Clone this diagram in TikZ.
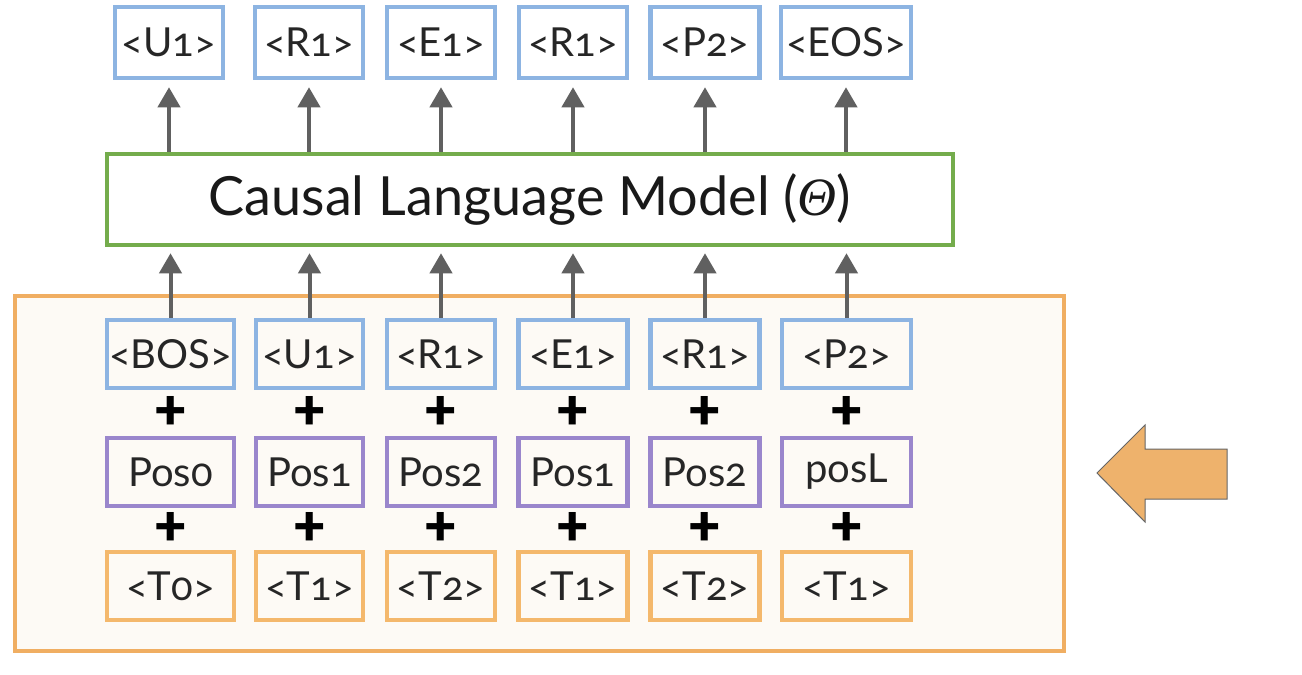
\documentclass[tikz,border=0pt]{standalone}
\usepackage{fontspec}
\setmainfont{Lato}[Numbers=OldStyle]
\newfontfamily\thetafont{Liberation Serif}
\newfontfamily\plusfont{Lato Black}
\usetikzlibrary{arrows.meta,calc}
\definecolor{tokblue}{HTML}{8DB4E2}
\definecolor{posviolet}{HTML}{9A86CC}
\definecolor{typeorange}{HTML}{F4B86C}
\definecolor{frameorange}{HTML}{F0AE62}
\definecolor{framefill}{HTML}{FDFAF5}
\definecolor{modelgreen}{HTML}{74AC4C}
\definecolor{flowgray}{HTML}{606060}
\definecolor{arrowfill}{HTML}{EEB26C}
\begin{document}
\begin{tikzpicture}[x=1pt,y=-1pt,
  boxbase/.style={line width=4.5pt, inner sep=0pt, text=black!85,
    font=\fontsize{40}{44}\selectfont},
  tokbox/.style={boxbase, draw=tokblue, minimum height=68pt},
  outbox/.style={boxbase, draw=tokblue, minimum height=71pt},
  posbox/.style={boxbase, draw=posviolet, minimum height=68pt},
  typebox/.style={boxbase, draw=typeorange, minimum height=68pt},
  modelbox/.style={line width=4.5pt, draw=modelgreen, inner sep=0pt,
    minimum width=846pt, minimum height=91pt, text=black!90,
    font=\fontsize{54}{58}\selectfont},
  flow/.style={draw=flowgray, line width=4pt,
    -{Triangle[width=22pt,length=20pt]}},
  plussign/.style={font=\plusfont\fontsize{56}{58}\selectfont, inner sep=0pt},
  frame/.style={draw=frameorange, fill=framefill, line width=4pt},
  bigarrow/.style={fill=arrowfill, draw=black!60, line width=1pt}
]
\useasboundingbox (0,0) rectangle (1302,675);
\fill[white] (0,0) rectangle (1302,675);

% outer frame
\draw[frame] (15,296) rectangle (1064,651);

% model
\node[modelbox] (m) at (530,199.5) {Causal Language Model ({\thetafont\itshape Θ})};

% output tokens
\node[outbox, minimum width=108pt] (o1) at (169,42.5) {<U1>};
\node[outbox, minimum width=108pt] (o2) at (309,42.5) {<R1>};
\node[outbox, minimum width=108pt] (o3) at (441,42.5) {<E1>};
\node[outbox, minimum width=108pt] (o4) at (573,42.5) {<R1>};
\node[outbox, minimum width=109pt] (o5) at (705,42.5) {<P2>};
\node[outbox, minimum width=130pt] (o6) at (846,42.5) {<EOS>};

% input tokens
\node[tokbox, minimum width=127pt] (b1) at (170.5,354) {<BOS>};
\node[tokbox, minimum width=107pt] (b2) at (309.5,354) {<U1>};
\node[tokbox, minimum width=108pt] (b3) at (441,354) {<R1>};
\node[tokbox, minimum width=109pt] (b4) at (573,354) {<E1>};
\node[tokbox, minimum width=109pt] (b5) at (705,354) {<R1>};
\node[tokbox, minimum width=129pt] (b6) at (846.5,354) {<P2>};

% positions
\node[posbox, minimum width=127pt] (p1) at (170.5,472) {Pos0};
\node[posbox, minimum width=107pt] (p2) at (309.5,472) {Pos1};
\node[posbox, minimum width=108pt] (p3) at (441,472) {Pos2};
\node[posbox, minimum width=109pt] (p4) at (573,472) {Pos1};
\node[posbox, minimum width=109pt] (p5) at (705,472) {Pos2};
\node[posbox, minimum width=129pt] (p6) at (846.5,472) {posL};

% types
\node[typebox, minimum width=127pt] (t1) at (170.5,586) {<T0>};
\node[typebox, minimum width=107pt] (t2) at (309.5,586) {<T1>};
\node[typebox, minimum width=108pt] (t3) at (441,586) {<T2>};
\node[typebox, minimum width=109pt] (t4) at (573,586) {<T1>};
\node[typebox, minimum width=109pt] (t5) at (705,586) {<T2>};
\node[typebox, minimum width=129pt] (t6) at (846.5,586) {<T1>};

% plus signs
\foreach \i in {1,...,6} {
  \node[plussign] (pa\i) at ($(b\i.south)!0.5!(p\i.north)$) {+};
  \node[plussign] (pb\i) at ($(p\i.south)!0.5!(t\i.north)$) {+};
}

% arrows
\foreach \i in {1,...,6} {
  \draw[flow, shorten >=7pt] (o\i.south |- m.north) -- (o\i.south);
  \draw[flow, shorten >=6pt] (b\i.north) -- (b\i.north |- m.south);
}

% big arrow
\draw[bigarrow] (1097,473) -- (1145,425) -- (1145,449) -- (1227,449)
  -- (1227,499) -- (1145,499) -- (1145,522) -- cycle;
\end{tikzpicture}
\end{document}
